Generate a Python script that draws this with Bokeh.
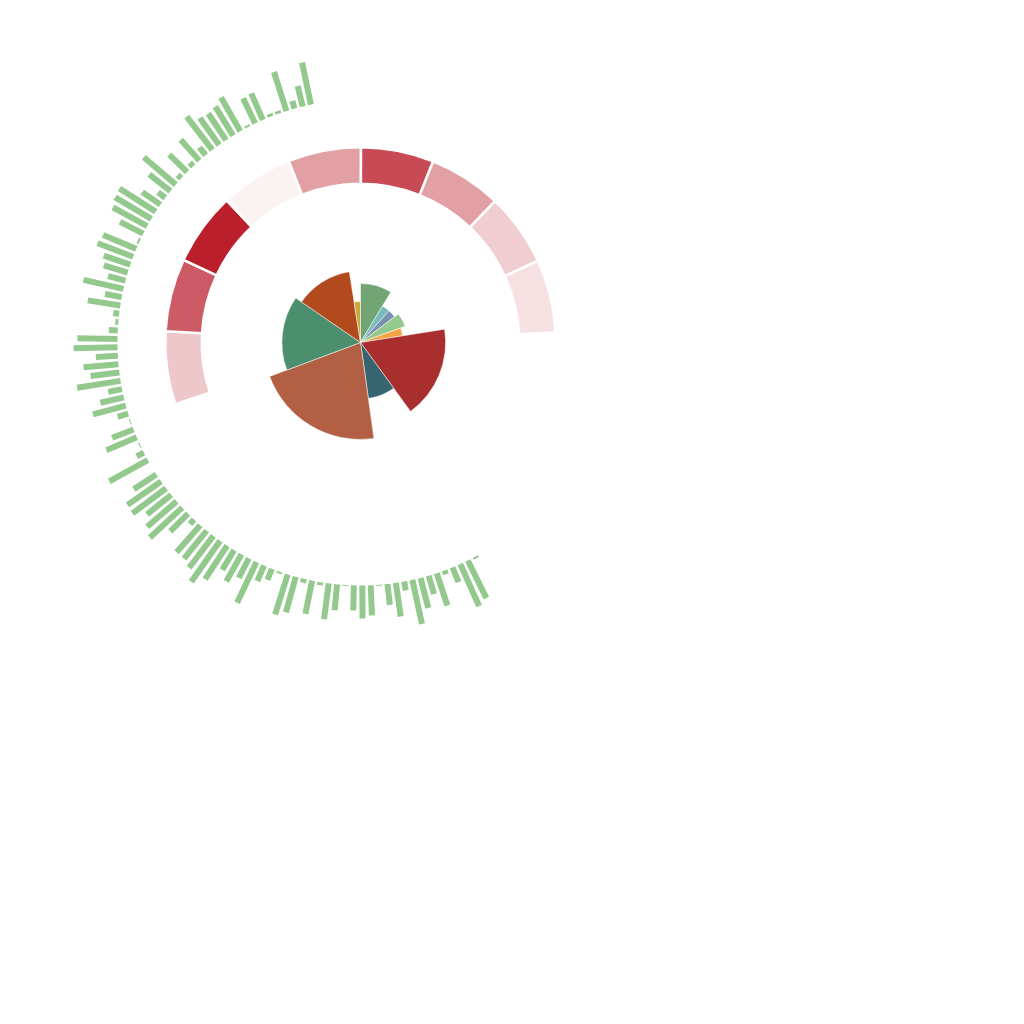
import numpy as np
from bokeh.plotting import figure
from bokeh.models import Range1d, ColumnDataSource
from bokeh.embed import file_html
from bokeh.resources import INLINE

# ---------------- data ----------------
# outer ring: radial bars (100 values)
bar_values = [2, 42, 46, 16, 4, 34, 19, 31, 45, 9,
              34, 21, 1, 30, 33, 25, 1, 26, 36, 3,
              34, 4, 37, 42, 2, 12, 17, 45, 22, 31,
              23, 40, 50, 40, 36, 36, 6, 25, 44, 39,
              31, 42, 41, 27, 0, 44, 8, 1, 33, 23,
              1, 11, 34, 24, 14, 44, 29, 35, 22, 44,
              40, 9, 3, 6, 33, 17, 41, 18, 25, 28,
              38, 36, 2, 26, 39, 42, 43, 22, 9, 27,
              42, 5, 25, 5, 28, 10, 42, 33, 32, 34,
              39, 2, 28, 29, 3, 3, 41, 8, 21, 43]

# middle ring: heat values (9 cells)
ring_values = [0.22, 0.72, 1.0, 0.02, 0.40, 0.80, 0.40, 0.19, 0.10]

# inner rose
rose_values = [31, 11, 11, 17, 11, 63, 28, 77.5, 55, 46.5, 9]
rose_colors = ["#73a574", "#77bdbe", "#7b8fae", "#93c98d", "#f4a443",
               "#a92e2e", "#37656f", "#b25f44", "#4b8f6e", "#b34a1e", "#c6ab3c"]

# ---------------- layout ----------------
W = H = 1000
CX, CY = 360, 342

p = figure(width=W, height=H,
           x_range=Range1d(-CX, W - CX), y_range=Range1d(-(H - CY), CY),
           output_backend="svg", toolbar_location=None, min_border=0,
           x_axis_location=None, y_axis_location=None)
p.grid.visible = False
p.outline_line_color = None
p.background_fill_color = "white"

# ---- inner rose ----
rv = np.array(rose_values, dtype=float)
cum = np.concatenate([[0], np.cumsum(rv)]) / rv.sum() * 360.0
r_min, r_max = 41.0, 97.0
radii = r_min + (rv - rv.min()) / (rv.max() - rv.min()) * (r_max - r_min)
rose_src = ColumnDataSource(dict(
    start=np.radians(90 - cum[1:]),
    end=np.radians(90 - cum[:-1]),
    radius=radii,
    color=rose_colors,
))
p.wedge(x=0, y=0, radius="radius", start_angle="start", end_angle="end",
        fill_color="color", line_color="white", line_width=0.5, source=rose_src)

# ---- middle heat ring ----
ring_start, ring_step = 251.6, 21.71
rv2 = np.array(ring_values)
lo = np.array([252, 246, 246])
hi = np.array([187, 31, 44])
ring_cols = ["#%02x%02x%02x" % tuple(int(round(c)) for c in (lo + v * (hi - lo))) for v in rv2]
t0 = ring_start + ring_step * np.arange(len(ring_values))
t1 = t0 + ring_step
ring_src = ColumnDataSource(dict(
    start=np.radians(90 - t1), end=np.radians(90 - t0), color=ring_cols))
p.annular_wedge(x=0, y=0, inner_radius=158.75, outer_radius=195.25,
                start_angle="start", end_angle="end", fill_color="color",
                line_color="white", line_width=2.5, source=ring_src)

# ---- outer radial bars ----
bar_start, bar_step, base_r = 151.8, 1.984, 243.0
bv = np.array(bar_values, dtype=float)
theta = np.radians(bar_start + bar_step * np.arange(len(bar_values)))
rc = base_r + bv / 2.0
bar_src = ColumnDataSource(dict(
    x=rc * np.sin(theta), y=rc * np.cos(theta),
    length=bv, angle=np.pi / 2 - theta))
p.rect(x="x", y="y", width="length", height=6, angle="angle",
       fill_color="#93c98d", line_color=None, source=bar_src)

open("out.html", "w").write(file_html(p, INLINE))
